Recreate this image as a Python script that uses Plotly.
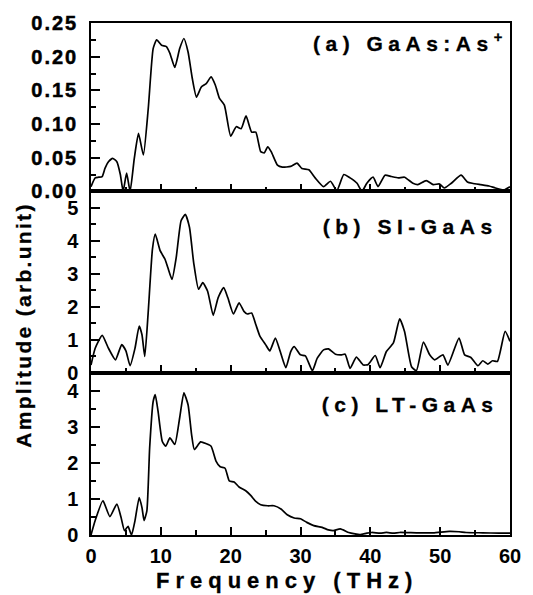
import plotly.graph_objects as go

# ---------------- data ----------------
freq_a = [0.0,0.6,1.1,1.6,2.0,2.5,3.1,3.7,4.2,4.6,5.1,5.6,6.2,6.8,7.5,8.2,8.9,9.4,10.1,10.8,
          11.3,12.0,12.7,13.3,13.9,14.5,15.1,15.8,16.5,17.2,17.8,18.4,19.1,20.0,20.8,21.5,22.2,
          23.0,23.6,24.3,24.8,25.3,25.8,26.7,27.4,28.6,29.5,30.2,31.2,32.1,33.3,34.3,35.2,36.2,
          37.1,38.1,38.8,39.5,40.4,41.1,42.1,43.0,44.0,44.9,46.1,46.8,48.0,49.0,49.9,50.6,51.6,
          53.0,53.9,54.6,55.8,57.0,57.9,59.1,60.0]
amp_a = [0.007,0.020,0.021,0.022,0.034,0.044,0.049,0.044,0.025,0.000,0.027,0.000,0.049,0.086,0.054,
         0.123,0.212,0.225,0.217,0.215,0.205,0.184,0.212,0.227,0.207,0.168,0.140,0.155,0.160,0.170,
         0.158,0.138,0.128,0.082,0.096,0.093,0.112,0.088,0.088,0.059,0.057,0.066,0.059,0.039,0.036,
         0.037,0.042,0.034,0.032,0.020,0.007,0.015,0.001,0.025,0.020,0.012,0.000,0.012,0.021,0.007,
         0.024,0.022,0.020,0.021,0.012,0.010,0.016,0.010,0.011,0.005,0.012,0.024,0.014,0.012,0.010,
         0.008,0.005,0.002,0.007]

freq_b = [0.0,0.6,1.6,2.5,3.5,4.4,5.0,5.6,6.3,6.9,7.3,7.7,8.2,8.8,9.2,9.9,10.6,11.0,11.6,12.2,
          12.9,13.5,14.1,14.7,15.4,16.0,16.7,17.5,18.2,19.0,19.6,20.4,21.2,21.9,22.4,23.0,23.6,
          24.2,25.0,25.6,26.4,27.1,27.9,28.6,29.1,30.0,30.7,31.7,32.4,33.3,34.0,35.0,35.9,36.4,
          37.1,38.0,39.0,39.7,40.7,41.4,42.3,43.3,44.2,44.9,45.9,46.6,47.6,48.5,49.2,50.4,51.1,
          52.7,53.5,54.4,55.4,56.1,56.8,57.5,58.2,59.3,60.0]
amp_b = [0.23,0.74,1.13,0.74,0.39,0.85,0.66,0.21,0.74,1.41,1.15,0.49,1.86,3.75,4.20,3.70,3.44,3.19,
         2.83,3.49,4.61,4.80,4.41,3.34,2.53,2.73,2.47,1.74,2.27,2.58,2.27,1.78,2.12,1.86,1.78,1.81,
         1.46,1.10,0.85,0.66,1.05,0.64,0.15,0.64,0.79,0.54,0.51,0.06,0.44,0.69,0.72,0.56,0.54,0.56,
         0.13,0.47,0.23,0.25,0.52,0.15,0.64,0.90,1.63,1.25,0.18,0.06,0.93,0.54,0.39,0.54,0.23,1.05,
         0.54,0.46,0.21,0.36,0.26,0.36,0.34,1.25,0.95]

freq_c = [0.0,0.6,1.7,2.7,3.7,4.3,4.8,5.3,5.8,6.3,6.9,7.3,7.6,8.0,8.4,8.9,9.2,9.6,10.2,10.7,11.3,
          12.0,12.7,13.3,13.9,14.4,14.8,15.7,16.5,17.2,17.9,18.5,19.2,19.8,20.5,21.2,22.2,22.9,
          23.6,24.3,25.3,26.2,27.2,28.1,29.1,30.0,30.9,31.9,33.1,34.0,34.7,35.7,36.9,37.8,38.5,
          39.5,40.2,41.4,42.3,43.3,44.2,46.6,49.0,51.3,52.7,53.7,56.1,58.4,60.0]
amp_c = [0.00,0.40,0.95,0.51,0.86,0.49,0.12,0.24,0.00,0.40,1.04,0.76,0.40,0.67,2.42,3.70,3.89,3.43,
         2.60,2.46,2.69,2.51,3.25,3.94,3.61,2.79,2.37,2.58,2.53,2.46,2.05,1.89,1.85,1.50,1.47,1.33,
         1.22,1.09,0.93,0.84,0.81,0.81,0.72,0.56,0.47,0.45,0.35,0.26,0.21,0.14,0.12,0.17,0.07,0.03,
         0.01,0.05,0.07,0.05,0.07,0.05,0.07,0.06,0.06,0.10,0.09,0.07,0.06,0.05,0.05]

labels = ["(a) GaAs:As<sup>+</sup>", "(b) SI-GaAs", "(c) LT-GaAs"]
x_title = "Frequency (THz)"
y_title = "Amplitude (arb.unit)"

# ---------------- figure ----------------
FONT = "Liberation Sans, Arial, Helvetica, sans-serif"
fig = go.Figure()
line = dict(color="black", width=1.7, shape="spline", smoothing=0.5)
fig.add_trace(go.Scatter(x=freq_a, y=amp_a, mode="lines", line=line, xaxis="x", yaxis="y"))
fig.add_trace(go.Scatter(x=freq_b, y=amp_b, mode="lines", line=line, xaxis="x2", yaxis="y2"))
fig.add_trace(go.Scatter(x=freq_c, y=amp_c, mode="lines", line=line, xaxis="x3", yaxis="y3"))

xtickfont = dict(family=FONT, size=20, color="black", weight="bold")
ytickfont = dict(family=FONT, size=20, color="black", weight="bold")

def xax(anchor, labels_on):
    return dict(domain=[0, 1], anchor=anchor, range=[0, 60], dtick=10, tick0=0,
                ticks="inside", ticklen=8, tickwidth=2, tickcolor="black",
                minor=dict(ticks="inside", ticklen=5, tickwidth=1.5, dtick=5, tickcolor="black"),
                showline=True, linewidth=1.5, linecolor="black", mirror=True,
                showgrid=False, zeroline=False, showticklabels=labels_on,
                tickfont=xtickfont, ticklabelstandoff=2)

def yax(anchor, dom, rng, dt, fmt):
    return dict(domain=dom, anchor=anchor, range=rng, dtick=dt, tick0=0, tickformat=fmt,
                ticks="inside", ticklen=9, tickwidth=2, tickcolor="black",
                minor=dict(ticks="inside", ticklen=5, tickwidth=1.5, dtick=dt / 2, tickcolor="black"),
                showline=True, linewidth=1.5, linecolor="black", mirror=True,
                showgrid=False, zeroline=False, tickfont=ytickfont, ticklabelstandoff=7)

fig.update_layout(
    width=533, height=595,
    margin=dict(l=91, r=12, t=21, b=60),
    paper_bgcolor="white", plot_bgcolor="white",
    showlegend=False,
    xaxis=xax("y", False),
    xaxis2=xax("y2", False),
    xaxis3=xax("y3", True),
    yaxis=yax("x", [0.6712, 1.0], [0, 0.25], 0.05, ".2f"),
    yaxis2=yax("x2", [0.3171, 0.6712], [0, 5.5], 1, "d"),
    yaxis3=yax("x3", [0.0, 0.3171], [0, 4.5], 1, "d"),
)

annfont = dict(family=FONT, size=21, color="black", weight="bold")
for lab, xr, yr, yv in zip(labels, ["x domain", "x2 domain", "x3 domain"],
                           ["y domain", "y2 domain", "y3 domain"], [0.89, 0.805, 0.805]):
    fig.add_annotation(text=lab, xref=xr, yref=yr, x=0.762, y=yv,
                       xanchor="center", yanchor="middle", showarrow=False, font=annfont)

fig.add_annotation(text=x_title, xref="paper", yref="paper", x=0.467, y=-0.088,
                   xanchor="center", yanchor="middle", showarrow=False,
                   font=dict(family=FONT, size=22, color="black", weight="bold"))
fig.add_annotation(text=y_title, xref="paper", yref="paper", x=-0.163, y=0.41,
                   xanchor="center", yanchor="middle", textangle=-90, showarrow=False,
                   font=dict(family=FONT, size=21, color="black", weight="bold"))

post = """
var gd = document.getElementById('{plot_id}');
var sp = ['5.5px','5.5px','5.5px','6px','2.3px'];
function ls(){
  gd.querySelectorAll('.xtick text, .ytick text').forEach(function(t){
    t.style.letterSpacing='2px'; t.style.stroke='black'; t.style.strokeWidth='0.5px';
  });
  gd.querySelectorAll('.annotation').forEach(function(g, i){
    var t = g.querySelector('.annotation-text');
    if (t && i < sp.length) { t.style.letterSpacing = sp[i]; t.style.stroke='black'; t.style.strokeWidth='0.3px'; }
  });
}
ls();
gd.on('plotly_afterplot', ls);
"""
fig.write_html("out.html", post_script=post)
